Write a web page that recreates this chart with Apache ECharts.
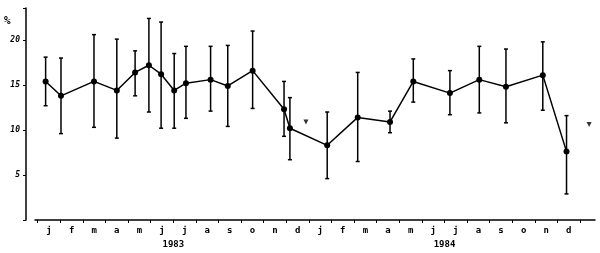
<!DOCTYPE html>
<html>
<head>
<meta charset="utf-8">
<script src="https://cdn.jsdelivr.net/npm/echarts@6/dist/echarts.min.js"></script>
<style>
html,body{margin:0;padding:0;background:#fff;}
#c{width:600px;height:253px;}
</style>
</head>
<body>
<div id="c"></div>
<script>
// Month label letters (Jan 1983 .. Dec 1984), placed at month index 0..23
const monthLabels = ['j','f','m','a','m','j','j','a','s','o','n','d','j','f','m','a','m','j','j','a','s','o','n','d'];
const yearLabels = ['1983','1984'];
const yearPositions = [5.5, 17.5];
// Sampling times in month units (0 = Jan 1983)
const sampleTimes = [-0.15, 0.53, 1.99, 3.0, 3.81, 4.42, 4.96, 5.54, 6.06, 7.15, 7.91, 9.01, 10.4, 10.66, 12.31, 13.66, 15.09, 16.12, 17.74, 19.04, 20.22, 21.85, 22.9];
// Mean values (%)
const meanValues = [15.4, 13.8, 15.4, 14.4, 16.4, 17.2, 16.2, 14.4, 15.2, 15.6, 14.9, 16.6, 12.3, 10.2, 8.3, 11.4, 10.9, 15.4, 14.1, 15.6, 14.8, 16.1, 7.6];
// Error bar lower / upper ends (%)
const errLow  = [12.7, 9.6, 10.3, 9.1, 13.8, 12.0, 10.2, 10.2, 11.3, 12.1, 10.4, 12.4, 9.3, 6.7, 4.6, 6.5, 9.7, 13.1, 11.7, 11.9, 10.8, 12.2, 2.9];
const errHigh = [18.1, 18.0, 20.6, 20.1, 18.8, 22.4, 22.0, 18.5, 19.3, 19.3, 19.4, 21.0, 15.4, 13.6, 12.0, 16.4, 12.1, 17.9, 16.6, 19.3, 19.0, 19.8, 11.6];
// Separate arrowhead markers
const markerTimes = [11.37, 23.9];
const markerValues = [10.9, 10.6];
// Y tick labels
const yTicks = ['', '5', '10', '15', '20'];

const chart = echarts.init(document.getElementById('c'));
const labelFont = {fontFamily: 'DejaVu Sans Mono', fontWeight: 'bold', color: '#000'};

const lineData = sampleTimes.map((t, i) => [t, meanValues[i]]);
const errData = sampleTimes.map((t, i) => [t, errLow[i], errHigh[i]]);
const markerData = markerTimes.map((t, i) => [t, markerValues[i]]);

chart.setOption({
  animation: false,
  backgroundColor: '#fff',
  grid: {left: 35, right: 5, top: 8, bottom: 33, containLabel: false, outerBoundsMode: 'none'},
  xAxis: [{
    type: 'value', min: -0.62, max: 24.16,
    splitLine: {show: false},
    axisLine: {show: true, onZero: false, lineStyle: {color: '#000', width: 1.5}},
    axisTick: {show: true, length: 3, lineStyle: {color: '#000', width: 1},
      customValues: monthLabels.map((_, i) => i - 0.5).concat([23.5])},
    axisLabel: {show: true, margin: 6, fontSize: 9, ...labelFont,
      customValues: monthLabels.map((_, i) => i),
      formatter: v => monthLabels[Math.round(v)] || ''}
  }, {
    type: 'value', min: -0.62, max: 24.16, position: 'bottom',
    splitLine: {show: false},
    axisLine: {show: false, onZero: false}, axisTick: {show: false},
    axisLabel: {show: true, margin: 20, fontSize: 9, ...labelFont,
      customValues: yearPositions,
      formatter: v => yearLabels[yearPositions.indexOf(v)] || ''}
  }],
  yAxis: {
    type: 'value', min: 0, max: 23.56, interval: 5, offset: 9,
    splitLine: {show: false},
    axisLine: {show: true, onZero: false, lineStyle: {color: '#000', width: 1.5}},
    axisTick: {show: true, length: 3, lineStyle: {color: '#000'}},
    axisLabel: {margin: 6, fontSize: 8, fontStyle: 'italic', ...labelFont,
      formatter: v => yTicks[Math.round(v / 5)] || ''}
  },
  graphic: [{
    type: 'text', left: 4, top: 16,
    style: {text: '%', font: 'bold 11px DejaVu Sans Mono', fill: '#000'}
  }],
  series: [{
    type: 'custom',
    data: errData,
    z: 2,
    renderItem: (params, api) => {
      const lo = api.coord([api.value(0), api.value(1)]);
      const hi = api.coord([api.value(0), api.value(2)]);
      const w = 2;
      const st = {stroke: '#000', lineWidth: 1.5};
      return {type: 'group', children: [
        {type: 'line', shape: {x1: lo[0], y1: lo[1], x2: hi[0], y2: hi[1]}, style: st},
        {type: 'line', shape: {x1: lo[0] - w, y1: lo[1], x2: lo[0] + w, y2: lo[1]}, style: st},
        {type: 'line', shape: {x1: hi[0] - w, y1: hi[1], x2: hi[0] + w, y2: hi[1]}, style: st}
      ]};
    }
  }, {
    type: 'line',
    data: lineData,
    z: 3,
    lineStyle: {color: '#000', width: 1.5},
    itemStyle: {color: '#000'},
    symbol: 'circle', symbolSize: 6
  }, {
    type: 'scatter',
    data: markerData,
    symbol: 'triangle', symbolRotate: 180, symbolSize: 5,
    itemStyle: {color: '#000'}
  }]
});
</script>
</body>
</html>
